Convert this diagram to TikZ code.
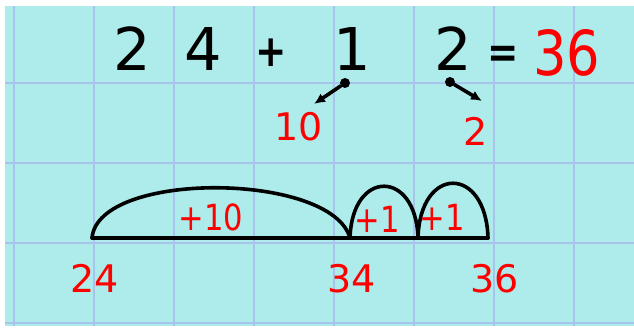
\documentclass[tikz,border=0pt]{standalone}
\usepackage{fontspec}
\setmainfont{DejaVu Sans}
\newfontfamily\narrowsans[FakeStretch=0.85]{DejaVu Sans}
\usepackage{xcolor}
\usetikzlibrary{arrows.meta,positioning}
\definecolor{paper}{RGB}{174,236,236}
\definecolor{gridblue}{RGB}{168,196,236}
\definecolor{penred}{RGB}{255,0,0}

\begin{document}
\begin{tikzpicture}[x=1pt, y=-1pt, >={Latex[length=11pt,width=10pt]}]
\tikzstyle{digit}=[inner sep=0pt, anchor=base, font=\fontsize{59}{59}\selectfont]
\tikzstyle{sign}=[inner sep=0pt, anchor=base, font=\narrowsans\bfseries\fontsize{44}{44}\selectfont]
\tikzstyle{answer}=[inner sep=0pt, anchor=base, text=penred, font=\narrowsans\fontsize{62}{62}\selectfont]
\tikzstyle{part}=[inner sep=0pt, anchor=base, text=penred, font=\fontsize{38}{38}\selectfont]
\tikzstyle{jump}=[inner sep=0pt, anchor=base, text=penred, font=\narrowsans\fontsize{36}{36}\selectfont]
\tikzstyle{dot}=[circle, fill=black, inner sep=0pt, minimum size=10pt]
\tikzstyle{pen}=[line width=3.6pt, line cap=round]
\useasboundingbox (0,0) rectangle (634,327);
\fill[white] (0,0) rectangle (634,327);
\fill[paper] (5,6) rectangle (634,326);
\begin{scope}
\clip (5,6) rectangle (634,326);
\foreach \gx in {14,94,...,574} \draw[gridblue, line width=2.6pt] (\gx,6) -- (\gx,326);
\foreach \gy in {83,163,243,323} \draw[gridblue, line width=2.6pt] (5,\gy) -- (634,\gy);
\end{scope}
\node[digit] (a) at (132,70) {2};
\node[digit] (b) at (203,70) {4};
\node[sign] (plus) at (271,66) {+};
\node[digit] (c) at (352,70) {1};
\node[digit] (d) at (453,70) {2};
\node[sign] (eq) at (503,67) {=};
\node[answer] (res) at (567,75) {36};
\node[dot] (p1) at (345,83) {};
\node[dot] (p2) at (450,82) {};
\coordinate (t1) at (314,104);
\coordinate (t2) at (482,101);
\draw[pen,->] (p1) -- (t1);
\draw[pen,->] (p2) -- (t2);
\node[part] (ten) at (299,140) {10};
\node[part] (two) at (476,145) {2};
\coordinate (n24) at (92,238);
\coordinate (n34) at (350,238);
\coordinate (n35) at (418,238);
\coordinate (n36) at (488,238);
\draw[pen] (n24) -- (n36);
\draw[pen] (n24) .. controls +(6,-68) and +(-18,-66) .. (n34);
\draw[pen] (n34) .. controls +(2,-69) and +(-2,-69) .. (n35);
\draw[pen] (n35) .. controls +(2,-73) and +(-2,-73) .. (n36);
\node[jump] (j10) at (211,230) {+10};
\node[jump] (j1a) at (377,232) {+1};
\node[jump] (j1b) at (442,230) {+1};
\node[part] (l24) at (95,292) {24};
\node[part] (l34) at (352,292) {34};
\node[part] (l36) at (495,292) {36};
\end{tikzpicture}
\end{document}
